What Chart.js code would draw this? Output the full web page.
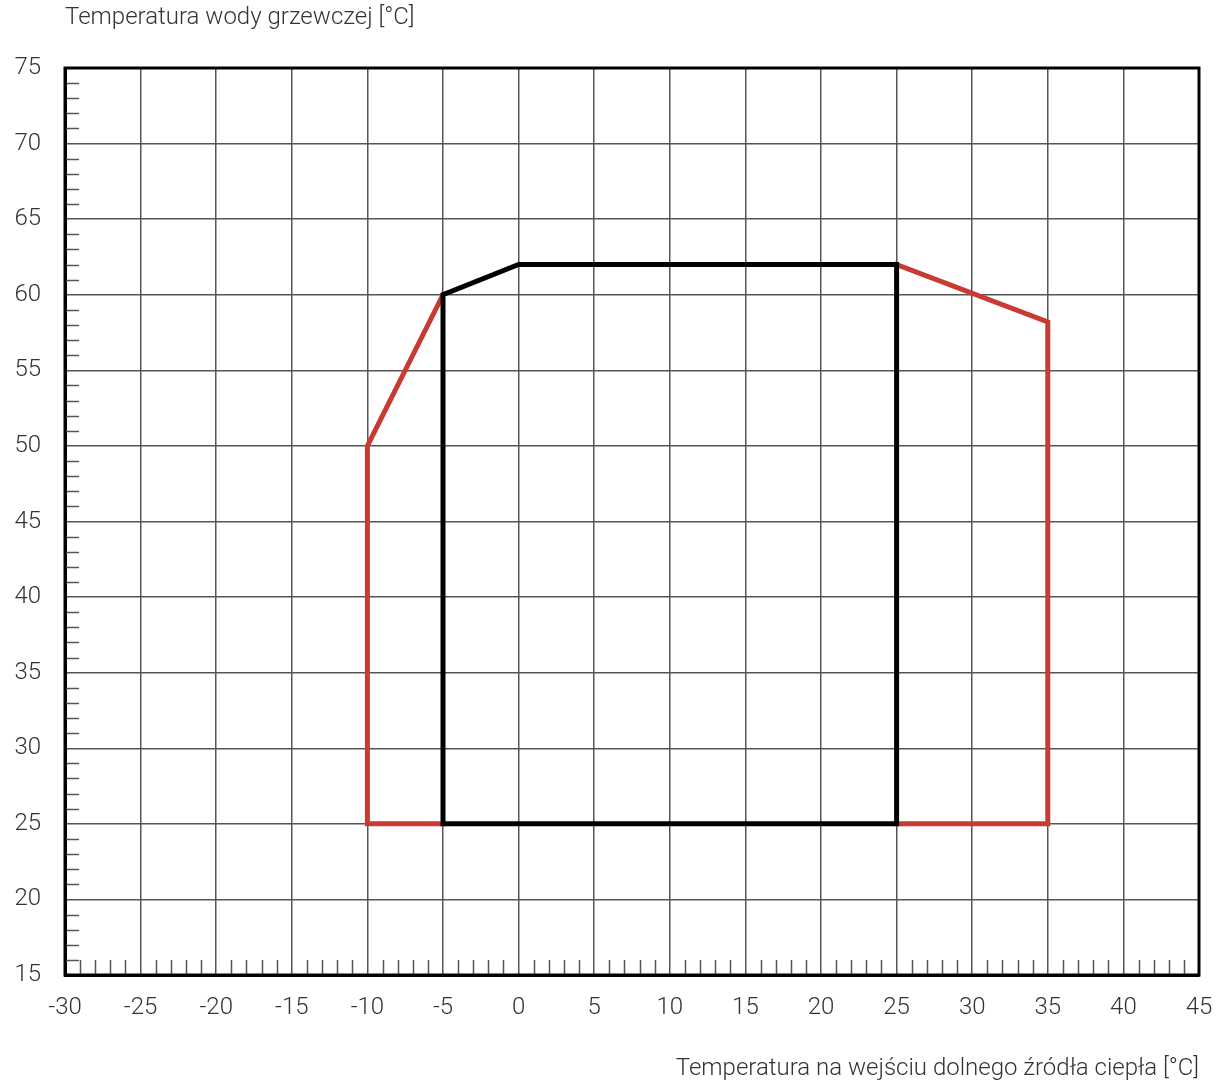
<!DOCTYPE html>
<html>
<head>
<meta charset="utf-8">
<script src="https://cdn.jsdelivr.net/npm/chart.js@4.4.1/dist/chart.umd.min.js"></script>
<style>
  html, body { margin: 0; padding: 0; background: #fff; }
  #wrap { width: 1219px; height: 1083px; }
</style>
</head>
<body>
<div id="wrap"><canvas id="chart"></canvas></div>
<script>
// zakres pracy pompy ciepla
const blackX = [-5, -5, 0, 25, 25, -5];
const blackY = [25, 60, 62, 62, 25, 25];
const redLeftX = [-5, -10, -10, -5];
const redLeftY = [60, 50, 25, 25];
const redRightX = [25, 35, 35, 25];
const redRightY = [62, 58.2, 25, 25];

const xMin = -30, xMax = 45, xStep = 5;
const yMin = 15, yMax = 75, yStep = 5;
const yTitle = "Temperatura wody grzewczej [°C]";
const xTitle = "Temperatura na wejściu dolnego źródła ciepła [°C]";

const FONT = "Roboto, 'Liberation Sans', sans-serif";
const RED = "#c83a32";

const toPoints = (xs, ys) => xs.map((x, i) => ({ x: x, y: ys[i] }));

const lineSet = (xs, ys, color) => ({
  data: toPoints(xs, ys),
  borderColor: color,
  borderWidth: 5,
  pointRadius: 0,
  fill: false,
  tension: 0,
  borderJoinStyle: "miter",
  borderCapStyle: "square",
});

// drobne podzialki + ramka + tytul osi Y
const extras = {
  id: "extras",
  beforeDatasetsDraw(chart) {
    const { ctx, chartArea, scales } = chart;
    ctx.save();
    ctx.strokeStyle = "#555";
    ctx.lineWidth = 1.5;
    ctx.beginPath();
    for (let v = yMin + 1; v < yMax; v++) {
      if (v % yStep === 0) continue;
      const py = Math.round(scales.y.getPixelForValue(v)) + 0.5;
      ctx.moveTo(chartArea.left, py);
      ctx.lineTo(chartArea.left + 14, py);
    }
    for (let v = xMin + 1; v < xMax; v++) {
      if (v % xStep === 0) continue;
      const px = Math.round(scales.x.getPixelForValue(v)) + 0.5;
      ctx.moveTo(px, chartArea.bottom);
      ctx.lineTo(px, chartArea.bottom - 15);
    }
    ctx.stroke();
    ctx.restore();
  },
  afterDraw(chart) {
    const { ctx, chartArea } = chart;
    ctx.save();
    ctx.strokeStyle = "#000";
    ctx.lineWidth = 3;
    ctx.strokeRect(chartArea.left, chartArea.top, chartArea.right - chartArea.left, chartArea.bottom - chartArea.top);
    ctx.fillStyle = "#333";
    ctx.font = "300 24px " + FONT;
    ctx.textAlign = "left";
    ctx.textBaseline = "middle";
    ctx.fillText(yTitle, chartArea.left, 18);
    ctx.restore();
  },
};

new Chart(document.getElementById("chart"), {
  type: "line",
  data: {
    datasets: [
      lineSet(blackX, blackY, "#000"),
      lineSet(redLeftX, redLeftY, RED),
      lineSet(redRightX, redRightY, RED),
    ],
  },
  options: {
    responsive: true,
    maintainAspectRatio: false,
    animation: false,
    layout: { padding: { top: 68, right: 0, left: 10, bottom: 0 } },
    plugins: {
      legend: { display: false },
      tooltip: { enabled: false },
    },
    scales: {
      x: {
        type: "linear",
        min: xMin,
        max: xMax,
        ticks: {
          stepSize: xStep,
          autoSkip: false,
          maxRotation: 0,
          padding: 19,
          color: "#333",
          font: { family: FONT, size: 24, weight: 300 },
        },
        grid: { color: "#555", lineWidth: 1.5, drawTicks: false },
        border: { color: "#000", width: 3 },
        title: {
          display: true,
          text: xTitle,
          align: "end",
          color: "#333",
          font: { family: FONT, size: 24, weight: 300 },
          padding: { top: 22, bottom: 0 },
        },
        afterFit(scale) {
          scale.height = 108;
          scale.paddingRight = 20;
          scale.paddingLeft = 0;
        },
      },
      y: {
        type: "linear",
        min: yMin,
        max: yMax,
        ticks: {
          stepSize: yStep,
          autoSkip: false,
          padding: 24,
          color: "#333",
          font: { family: FONT, size: 24, weight: 300 },
        },
        grid: { color: "#555", lineWidth: 1.5, drawTicks: false },
        border: { color: "#000", width: 3 },
        afterFit(scale) { scale.width = 55; },
      },
    },
  },
  plugins: [extras],
});
</script>
</body>
</html>
